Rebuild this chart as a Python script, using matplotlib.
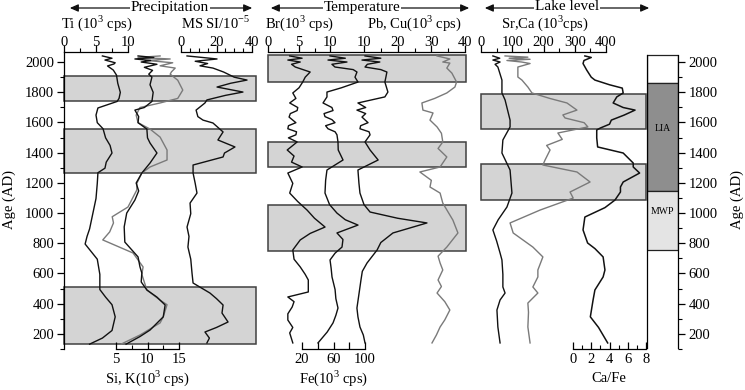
import matplotlib
matplotlib.use("Agg")
import matplotlib.pyplot as plt
from matplotlib.patches import FancyArrowPatch

plt.rcParams["font.family"] = ["Liberation Serif", "DejaVu Serif"]
plt.rcParams["mathtext.fontset"] = "custom"
plt.rcParams["mathtext.rm"] = "Liberation Serif"
plt.rcParams["font.size"] = 10.5

# ---- data (age AD, value) ----
ti_age = [2040, 2025, 2013, 1995, 1987, 1974, 1947, 1914, 1860, 1800, 1760, 1740, 1697, 1650, 1600, 1560,
          1500, 1450, 1400, 1340, 1300, 1270, 1200, 1100, 1000, 900, 850, 800, 700, 600, 500, 450, 400, 320,
          230, 180, 140]
ti_val = [6.0, 7.5, 6.4, 8.0, 7.8, 6.8, 7.7, 8.2, 8.4, 8.8, 8.6, 8.3, 5.3, 5.0, 5.2, 6.1,
          6.5, 7.2, 7.5, 6.6, 6.4, 5.3, 5.2, 5.0, 4.5, 4.0, 3.6, 3.3, 5.2, 5.6, 5.6, 6.5, 7.5, 8.0,
          7.5, 6.0, 4.0]

si_age = [2040, 2030, 2020, 2010, 2000, 1985, 1965, 1945, 1920, 1900, 1850, 1800, 1740, 1700, 1683, 1640,
          1600, 1558, 1500, 1466, 1400, 1334, 1268, 1202, 1150, 1090, 1004, 913, 813, 715, 650, 609, 550,
          497, 450, 398, 320, 233, 190, 140]
si_val = [8.5, 11.0, 8.0, 10.5, 9.0, 11.5, 9.5, 10.8, 10.2, 10.7, 10.4, 10.9, 10.7, 9.5, 8.0, 8.6,
          8.5, 9.9, 10.0, 10.4, 11.5, 10.4, 9.1, 8.2, 8.6, 8.0, 6.7, 6.3, 6.4, 8.5, 8.8, 9.1, 9.0,
          9.9, 11.5, 12.8, 12.5, 10.4, 8.8, 6.6]

k_age = [2040, 2030, 2020, 2010, 1995, 1975, 1960, 1935, 1920, 1880, 1815, 1760, 1730, 1700, 1650, 1600,
         1558, 1505, 1420, 1354, 1308, 1268, 1200, 1156, 1044, 980, 939, 880, 827, 741, 649, 600, 497,
         430, 400, 320, 280, 200, 140]
k_val = [12.0, 8.5, 13.6, 10.0, 14.0, 12.0, 14.4, 13.8, 13.6, 14.8, 15.6, 14.8, 12.0, 8.8, 8.2, 8.5,
         10.4, 12.0, 13.1, 13.1, 10.4, 9.1, 8.3, 8.3, 6.9, 4.4, 4.6, 4.0, 2.9, 7.7, 9.3, 9.1, 9.9,
         12.0, 13.1, 12.5, 12.0, 8.8, 5.8]

ms_age = [2040, 2030, 2020, 2005, 1990, 1975, 1960, 1934, 1900, 1881, 1860, 1835, 1802, 1780, 1750, 1730,
          1683, 1640, 1617, 1598, 1539, 1486, 1440, 1400, 1374, 1321, 1268, 1200, 1136, 1070, 1000, 912,
          850, 780, 700, 609, 543, 477, 440, 398, 345, 286, 250, 220, 180, 148]
ms_val = [3.4, 12.0, 20.3, 8.0, 15.0, 10.7, 18.0, 24.0, 30.0, 37.2, 28.0, 20.3, 34.9, 25.0, 14.6, 13.5,
          8.5, 9.5, 12.4, 18.0, 23.7, 20.8, 30.4, 24.5, 23.7, 6.8, 6.8, 8.0, 9.0, 5.1, 5.5, 3.4,
          4.5, 3.9, 5.5, 6.2, 6.8, 16.3, 20.0, 23.7, 23.1, 26.5, 20.0, 13.5, 16.0, 14.6]

br_age = [2040, 2025, 2013, 2000, 1985, 1967, 1934, 1900, 1868, 1830, 1796, 1760, 1730, 1700, 1680, 1660,
          1637, 1600, 1580, 1560, 1540, 1520, 1500, 1473, 1420, 1380, 1340, 1308, 1268, 1200, 1136, 1080,
          1024, 970, 912, 870, 827, 761, 700, 649, 600, 563, 484, 451, 420, 385, 340, 299, 250, 214, 148]
br_val = [3.5, 5.5, 3.2, 5.2, 3.8, 4.4, 6.8, 6.0, 5.6, 5.0, 4.0, 4.5, 3.5, 4.8, 4.7, 3.6,
          3.4, 4.5, 3.3, 3.2, 4.6, 4.5, 3.3, 4.7, 3.1, 4.2, 3.8, 5.5, 3.2, 4.0, 3.5, 4.8,
          6.3, 7.5, 9.2, 6.8, 5.2, 4.0, 4.2, 5.2, 6.0, 6.5, 6.5, 3.2, 4.2, 3.9, 3.2, 3.2, 4.0, 3.5, 4.0]

fe_age = [2040, 2025, 2013, 2000, 1985, 1967, 1950, 1934, 1900, 1868, 1830, 1802, 1770, 1730, 1700, 1680,
          1660, 1640, 1620, 1600, 1580, 1560, 1540, 1520, 1473, 1420, 1354, 1288, 1220, 1136, 1060, 1004,
          960, 925, 873, 830, 780, 740, 695, 640, 583, 500, 440, 378, 330, 280, 220, 148]
fe_val = [55.6, 75.0, 53.0, 77.1, 58.0, 61.9, 85.0, 89.8, 87.3, 91.1, 70.0, 51.7, 51.7, 46.7, 58.0, 59.4,
          48.0, 49.2, 58.0, 61.9, 50.0, 53.0, 62.0, 64.4, 65.7, 66.0, 72.1, 51.7, 50.0, 49.2, 55.0, 64.4,
          75.0, 91.1, 64.4, 72.0, 70.8, 62.0, 55.6, 57.0, 58.1, 62.0, 63.0, 65.7, 63.0, 59.4, 52.0, 40.3]

pb_age = [2040, 2025, 2013, 2000, 1985, 1967, 1950, 1934, 1900, 1868, 1802, 1770, 1730, 1700, 1683, 1660,
          1637, 1600, 1580, 1560, 1540, 1520, 1473, 1420, 1354, 1288, 1200, 1136, 1060, 1011, 970, 939,
          873, 810, 761, 675, 620, 563, 470, 378, 320, 253, 200, 148]
pb_val = [10.3, 15.0, 9.4, 14.7, 11.0, 10.3, 15.0, 16.8, 16.5, 16.2, 17.1, 16.2, 8.2, 10.5, 7.9, 10.5,
          9.4, 11.2, 9.0, 8.8, 11.5, 11.8, 10.3, 11.8, 14.2, 8.2, 8.5, 8.8, 10.0, 11.8, 20.0, 28.7,
          18.6, 15.0, 13.9, 10.9, 9.5, 9.1, 8.5, 7.9, 8.2, 8.8, 9.8, 10.3]

cu_age = [2040, 2020, 2000, 1993, 1960, 1927, 1868, 1835, 1796, 1760, 1730, 1683, 1664, 1617, 1572, 1530,
          1473, 1430, 1374, 1308, 1275, 1220, 1176, 1136, 1070, 1010, 958, 873, 780, 720, 675, 629,
          563, 520, 477, 420, 365, 300, 253, 200, 148]
cu_val = [31.7, 35.5, 33.4, 35.5, 34.6, 36.1, 37.5, 37.0, 34.6, 31.0, 27.2, 27.5, 30.5, 29.6, 31.7, 33.0,
          33.4, 32.0, 34.6, 32.6, 26.6, 30.0, 29.6, 32.6, 33.4, 35.0, 36.4, 37.9, 34.6, 32.0, 32.6, 33.4,
          32.0, 33.0, 31.7, 34.0, 35.5, 34.0, 32.6, 31.5, 30.2]

sr_age = [2040, 2025, 2013, 2000, 1985, 1967, 1881, 1796, 1750, 1617, 1572, 1486, 1400, 1288, 1136, 1044,
          960, 893, 820, 741, 695, 600, 517, 477, 431, 365, 253, 148]
sr_val = [38, 60, 38, 61, 45, 54, 67, 67, 77, 93, 93, 70, 67, 93, 99, 83,
          55, 38, 50, 61, 67, 70, 70, 77, 61, 51, 54, 61]

ca_age = [2040, 2032, 2025, 2018, 2010, 2000, 1990, 1967, 1901, 1881, 1835, 1796, 1760, 1730, 1683, 1651,
          1631, 1600, 1572, 1532, 1490, 1450, 1420, 1354, 1321, 1275, 1209, 1143, 1103, 1024, 939, 873,
          780, 715, 629, 583, 517, 477, 411, 350, 253, 148]
ca_val = [77, 150, 90, 157, 83, 130, 157, 118, 118, 131, 150, 163, 220, 275, 307, 262,
          269, 330, 342, 246, 260, 210, 221, 205, 198, 307, 349, 285, 295, 189, 93, 103,
          166, 198, 182, 182, 166, 182, 150, 152, 150, 157]

cafe_age = [2040, 2030, 2020, 2010, 1990, 1947, 1900, 1881, 1850, 1828, 1796, 1770, 1730, 1700, 1683, 1650,
            1617, 1590, 1565, 1552, 1500, 1440, 1400, 1334, 1308, 1268, 1209, 1176, 1143, 1090, 1040, 978,
            893, 807, 770, 715, 629, 583, 497, 431, 320, 250, 148]
cafe_val = [1.3, 2.0, 1.6, 1.2, 1.1, 1.5, 2.0, 2.4, 4.0, 5.4, 5.5, 4.8, 4.4, 5.5, 6.8, 5.6,
            4.2, 4.0, 3.0, 2.6, 2.6, 2.7, 5.5, 6.6, 6.6, 7.3, 5.5, 5.2, 5.2, 4.6, 3.5, 1.3,
            1.1, 1.6, 2.4, 3.3, 3.5, 3.3, 2.4, 2.2, 1.9, 2.8, 3.8]

precip_shades = [(1743, 1908), (1268, 1558), (134, 510)]
temp_shades = [(1868, 2046), (1308, 1473), (754, 1057)]
lake_shades = [(1558, 1789), (1090, 1328)]
periods = ["", "LIA", "MWP"]
period_lo = [1862, 1143, 754]
period_hi = [2046, 1862, 1143]
period_colors = ["white", "#8e8e8e", "#e4e4e4"]

age_ticks = [200, 400, 600, 800, 1000, 1200, 1400, 1600, 1800, 2000]
age_minor = list(range(100, 2001, 100))

# ---- layout (pixels) ----
W, H = 745, 390
TOP, BOT = 52, 349
AGE_LIM = (108, 2066)
SHADE, EDGE = "#d4d4d4", "#404040"
BLACK, GREY = "#111111", "#7a7a7a"

fig = plt.figure(figsize=(W / 100, H / 100), dpi=100)


def rect(x0, x1):
    return [x0 / W, 1 - BOT / H, (x1 - x0) / W, (BOT - TOP) / H]


def xlim_from(px0, v0, px1, v1, x0, x1):
    step = (v1 - v0) / (px1 - px0)
    return (v0 + (x0 - px0) * step, v0 + (x1 - px0) * step)


def bare(ax):
    ax.patch.set_visible(False)
    for s in ax.spines.values():
        s.set_visible(False)
    ax.set_xticks([])
    ax.set_yticks([])
    ax.set_ylim(*AGE_LIM)


def base_axes(x0, x1, shades):
    ax = fig.add_axes(rect(x0, x1))
    bare(ax)
    ax.set_xlim(0, 1)
    for lo, hi in shades:
        ax.axhspan(lo, hi, facecolor=SHADE, edgecolor=EDGE, lw=1.1, clip_on=False)
    return ax


def curve_axes(x0, x1, xlim):
    ax = fig.add_axes(rect(x0, x1))
    bare(ax)
    ax.set_xlim(*xlim)
    return ax


def scale(ax, side, major, minor, bounds, labels=None):
    ax.spines[side].set_visible(True)
    ax.spines[side].set_bounds(*bounds)
    ax.spines[side].set_linewidth(0.9)
    ax.xaxis.set_ticks_position(side)
    ax.set_xticks(major)
    ax.set_xticks(minor, minor=True)
    if labels is not None:
        ax.set_xticklabels(labels)
    direction = "out" if side == "top" else "in"
    pad = -3.0 if side == "top" else 3.0
    ax.tick_params(axis="x", which="major", direction=direction, length=5, width=0.9, pad=pad, labelsize=10.5)
    ax.tick_params(axis="x", which="minor", direction=direction, length=3, width=0.8)


# ---- precipitation panel ----
p1 = base_axes(64, 256, precip_shades)
p1.spines["left"].set_visible(True)
p1.spines["left"].set_linewidth(0.9)
p1.set_yticks(age_ticks)
p1.set_yticks(age_minor, minor=True)
p1.tick_params(axis="y", which="major", direction="out", length=5, width=0.9, pad=2, labelsize=10.5)
p1.tick_params(axis="y", which="minor", direction="out", length=3, width=0.8)

ax_ti = curve_axes(64, 256, xlim_from(64, 0, 128, 10, 64, 256))
ax_ti.plot(ti_val, ti_age, color=BLACK, lw=1.0)
scale(ax_ti, "top", [0, 5, 10], [2.5, 7.5], (0, 10))

ax_sik = curve_axes(64, 256, xlim_from(116, 5, 179, 15, 64, 256))
ax_sik.plot(k_val, k_age, color=GREY, lw=1.0)
ax_sik.plot(si_val, si_age, color=BLACK, lw=1.0)
scale(ax_sik, "bottom", [5, 10, 15], [7.5, 12.5], (5, 15))

ax_ms = curve_axes(64, 256, xlim_from(181, 0, 252, 40, 64, 256))
ax_ms.plot(ms_val, ms_age, color=BLACK, lw=1.0)
scale(ax_ms, "top", [0, 20, 40], [5, 10, 15, 25, 30, 35], (0, 40))

# ---- temperature panel ----
base_axes(268, 466, temp_shades)

ax_br = curve_axes(268, 466, xlim_from(268, 0, 330, 10, 268, 466))
ax_br.plot(br_val, br_age, color=BLACK, lw=1.0)
scale(ax_br, "top", [0, 5, 10], [2.5, 7.5], (0, 31.8))

ax_fe = curve_axes(268, 466, xlim_from(302, 20, 365, 100, 268, 466))
ax_fe.plot(fe_val, fe_age, color=BLACK, lw=1.0)
scale(ax_fe, "bottom", [20, 40, 60, 80, 100], [], (20, 100), ["20", "", "60", "", "100"])

ax_pb = curve_axes(268, 466, xlim_from(364, 10, 465, 40, 268, 466))
ax_pb.plot(cu_val, cu_age, color=GREY, lw=1.0)
ax_pb.plot(pb_val, pb_age, color=BLACK, lw=1.0)
scale(ax_pb, "top", [10, 20, 30, 40], [15, 25, 35], (10, 40))
ax_pb.spines["top"].set_visible(False)

# ---- lake level panel ----
base_axes(481, 646, lake_shades)

ax_sr = curve_axes(481, 646, xlim_from(481, 0, 606, 400, 481, 646))
ax_sr.plot(ca_val, ca_age, color=GREY, lw=1.0)
ax_sr.plot(sr_val, sr_age, color=BLACK, lw=1.0)
scale(ax_sr, "top", [0, 100, 200, 300, 400], [50, 150, 250, 350], (0, 400))

ax_cf = curve_axes(481, 646, xlim_from(573, 0, 646, 8, 481, 646))
ax_cf.plot(cafe_val, cafe_age, color=BLACK, lw=1.1)
scale(ax_cf, "bottom", [0, 2, 4, 6, 8], [1, 3, 5, 7], (0, 8))

# ---- period bar with right age axis ----
bar = fig.add_axes(rect(647, 678))
bar.set_ylim(*AGE_LIM)
bar.set_xlim(0, 1)
bar.patch.set_visible(False)
bar.set_xticks([])
for side in ("top", "bottom"):
    bar.spines[side].set_visible(False)
for side in ("left", "right"):
    bar.spines[side].set_bounds(AGE_LIM[0], 2046)
    bar.spines[side].set_linewidth(0.9)
for name, lo, hi, c in zip(periods, period_lo, period_hi, period_colors):
    bar.axhspan(lo, hi, facecolor=c, edgecolor="#222222", lw=0.9)
    if name:
        bar.text(0.5, (lo + hi) / 2 + 60, name, ha="center", va="center", fontsize=7)
bar.yaxis.set_ticks_position("right")
bar.set_yticks(age_ticks)
bar.set_yticks(age_minor, minor=True)
bar.tick_params(axis="y", which="major", direction="out", length=5, width=0.9, pad=2.5, labelsize=10.5)
bar.tick_params(axis="y", which="minor", direction="out", length=3, width=0.8)


# ---- axis titles ----
def ftext(x, y, s, **kw):
    fig.text(x / W, 1 - y / H, s, ha="center", va="center", **kw)


ftext(97, 23, "Ti (10$^3$ cps)")
ftext(216, 23, "MS SI/10$^{-5}$")
ftext(300, 23, "Br(10$^3$ cps)")
ftext(414, 23, "Pb, Cu(10$^3$ cps)")
ftext(545, 23, "Sr,Ca (10$^3$cps)")
ftext(147, 378, "Si, K(10$^3$ cps)")
ftext(334, 378, "Fe(10$^3$ cps)")
ftext(609, 378, "Ca/Fe")
ftext(9, 200, "Age (AD)", rotation=90)
ftext(737, 200, "Age (AD)", rotation=90)


def header(x0, x1, xc, label):
    y = 1 - 8 / H
    arrow = FancyArrowPatch((x0 / W, y), (x1 / W, y), transform=fig.transFigure,
                            arrowstyle="<|-|>,head_length=5,head_width=2.2", color="#111111", lw=0.9)
    fig.add_artist(arrow)
    fig.text(xc / W, 1 - 7 / H, label, ha="center", va="center", fontsize=11,
             bbox=dict(facecolor="white", edgecolor="none", pad=0.3))


header(67, 255, 170, "Precipitation")
header(268, 472, 362, "Temperature")
header(482, 652, 567, "Lake level")

fig.savefig("out.png", dpi=100)
